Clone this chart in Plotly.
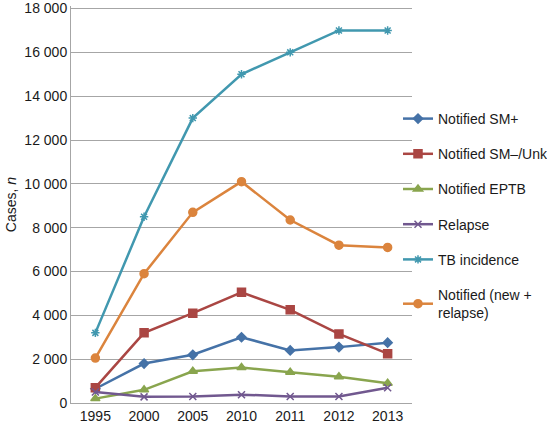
import plotly.graph_objects as go

years = ["1995", "2000", "2005", "2010", "2011", "2012", "2013"]
sm_pos = [650, 1800, 2200, 3000, 2400, 2550, 2750]
sm_neg = [700, 3200, 4100, 5050, 4250, 3150, 2250]
eptb = [200, 600, 1450, 1620, 1400, 1200, 900]
relapse = [500, 280, 300, 380, 300, 300, 700]
tb_inc = [3200, 8500, 13000, 15000, 16000, 17000, 17000]
notified = [2050, 5900, 8700, 10100, 8350, 7200, 7100]
y_ticks = [0, 2000, 4000, 6000, 8000, 10000, 12000, 14000, 16000, 18000]

series = [
    ("Notified SM+", sm_pos, "#4572A7", "diamond", 7),
    ("Notified SM–/Unk", sm_neg, "#AA4643", "square", 8),
    ("Notified EPTB", eptb, "#89A54E", "triangle-up", 8),
    ("Relapse", relapse, "#71588F", "x-thin-open", 7),
    ("TB incidence", tb_inc, "#4198AF", "asterisk-open", 7),
    ("Notified (new +<br>relapse)", notified, "#DB843D", "circle", 8),
]

fig = go.Figure()
for i, (name, vals, col, sym, sz) in enumerate(series):
    fig.add_trace(go.Scatter(
        x=years, y=vals, name=name, mode="lines+markers",
        legendgroup=str(i),
        line=dict(color=col, width=2.5),
        marker=dict(symbol=sym, size=sz, color=col, line=dict(color=col, width=1.5)),
    ))

T, B = 6, 23
ph = 426 - T - B
fig.update_layout(
    width=547, height=426,
    margin=dict(l=71, r=135, t=T, b=B, autoexpand=False),
    paper_bgcolor="white", plot_bgcolor="white",
    font=dict(family="Liberation Sans, Arial, sans-serif", size=14, color="#1a1a1a"),
    showlegend=True,
    separators=". ",
    legend=dict(x=(398 - 71) / 341, xanchor="left", y=(403 - 103) / ph, yanchor="top",
                bgcolor="rgba(0,0,0,0)",
                tracegroupgap=14, itemwidth=30, font=dict(size=14)),
    xaxis=dict(type="category", range=[-0.5, 6.5], showgrid=False,
               showline=True, linecolor="#a6a6a6", linewidth=1, ticks="",
               tickfont=dict(size=14)),
    yaxis=dict(range=[0, 18115], tickvals=y_ticks, ticklabeloverflow="allow",
               showgrid=True, gridcolor="#a6a6a6",
               gridwidth=1, showline=True, linecolor="#a6a6a6", zeroline=False,
               tickformat=",d",
               title=dict(text="Cases, <i>n</i>", standoff=4, font=dict(size=14)),
               tickfont=dict(size=14)),
)

fig.write_html("out.html", config={"displayModeBar": False},
               post_script="document.body.style.margin='0';document.body.style.overflow='hidden';")
